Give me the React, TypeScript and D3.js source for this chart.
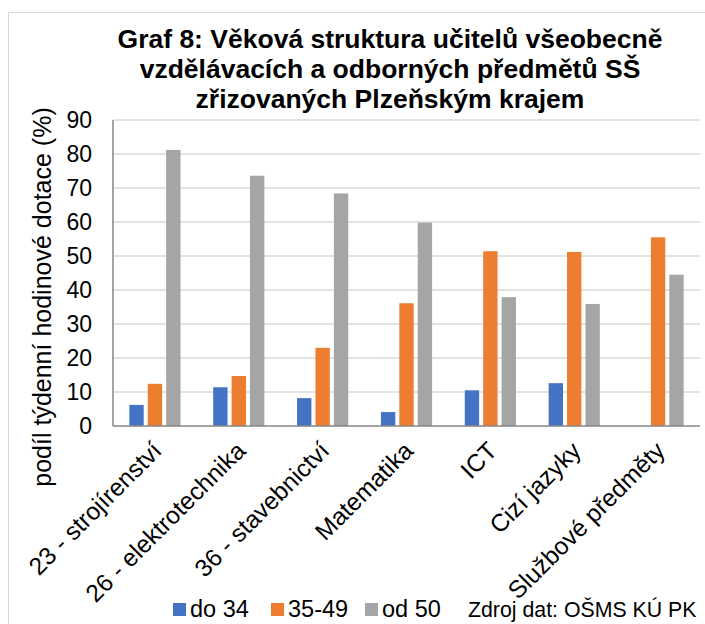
import React, { useEffect, useRef } from "react";
import * as d3 from "d3";

const categories = [
  "23 - strojírenství",
  "26 - elektrotechnika",
  "36 - stavebnictví",
  "Matematika",
  "ICT",
  "Cizí jazyky",
  "Službové předměty",
];
const series = ["do 34", "35-49", "od 50"];
const do34 = [6.2, 11.4, 8.2, 4.1, 10.5, 12.6, 0];
const od35do49 = [12.4, 14.7, 23.0, 36.1, 51.4, 51.2, 55.5];
const od50 = [81.2, 73.6, 68.4, 59.8, 37.9, 35.9, 44.5];
const yTicks = [0, 10, 20, 30, 40, 50, 60, 70, 80, 90];
const colors = ["#4472C4", "#ED7D31", "#A5A5A5"];
const titleLines = [
  "Graf 8: Věková struktura učitelů všeobecně",
  "vzdělávacích a odborných předmětů SŠ",
  "zřizovaných Plzeňským krajem",
];

const FONT = "'Liberation Sans', Arial, sans-serif";

function AgeChart() {
  const ref = useRef<SVGSVGElement>(null);

  useEffect(() => {
    const svg = d3.select(ref.current);
    svg.selectAll("*").remove();

    const width = 705;
    const height = 624;
    const margin = { top: 120, bottom: 198, left: 113, right: 5 };

    // chart frame
    svg.append("rect")
      .attr("x", 8.5).attr("y", 12.5)
      .attr("width", 720).attr("height", 640)
      .attr("fill", "#fff").attr("stroke", "#d9d9d9");

    const x = d3.scaleBand()
      .domain(categories)
      .range([margin.left, width - margin.right])
      .paddingInner(0.39)
      .paddingOuter(0.195);
    const xs = d3.scaleBand().domain(series).range([0, x.bandwidth()]).paddingInner(0.22);
    const y = d3.scaleLinear().domain([0, 90]).range([height - margin.bottom, margin.top]);

    // gridlines
    svg.append("g")
      .selectAll("line")
      .data(yTicks.slice(1))
      .join("line")
      .attr("x1", margin.left).attr("x2", width - margin.right)
      .attr("y1", (d) => y(d)).attr("y2", (d) => y(d))
      .attr("stroke", "#d9d9d9").attr("stroke-width", 1.5);

    // y tick labels
    svg.append("g")
      .selectAll("text")
      .data(yTicks)
      .join("text")
      .attr("x", 92).attr("y", (d) => y(d))
      .attr("dy", "0.36em")
      .attr("text-anchor", "end")
      .style("font-family", FONT).style("font-size", "23px")
      .attr("fill", "#000")
      .text((d) => d);

    // bars
    const values = [do34, od35do49, od50];
    const rows = categories.flatMap((c, i) =>
      series.map((s, j) => ({ c, s, v: values[j][i], j }))
    );
    svg.append("g")
      .selectAll("rect")
      .data(rows.filter((d) => d.v > 0))
      .join("rect")
      .attr("x", (d) => (x(d.c) as number) + (xs(d.s) as number))
      .attr("width", xs.bandwidth())
      .attr("y", (d) => y(d.v))
      .attr("height", (d) => y(0) - y(d.v))
      .attr("fill", (d) => colors[d.j]);

    // axis lines
    svg.append("line")
      .attr("x1", margin.left).attr("x2", margin.left)
      .attr("y1", y(90)).attr("y2", y(0))
      .attr("stroke", "#868686").attr("stroke-width", 1.5);
    svg.append("line")
      .attr("x1", margin.left).attr("x2", width - margin.right)
      .attr("y1", y(0)).attr("y2", y(0))
      .attr("stroke", "#868686").attr("stroke-width", 1.5);

    // category labels
    svg.append("g")
      .selectAll("text")
      .data(categories)
      .join("text")
      .attr("transform", (d) => `translate(${(x(d) as number) + x.bandwidth() / 2 + 2},${y(0) + 20}) rotate(-45)`)
      .attr("dy", "0.36em")
      .attr("text-anchor", "end")
      .style("font-family", FONT).style("font-size", "24.5px")
      .text((d) => d);

    // axis title
    svg.append("text")
      .attr("transform", `translate(42,297) rotate(-90)`)
      .attr("dy", "0.36em")
      .attr("text-anchor", "middle")
      .style("font-family", FONT).style("font-size", "25px")
      .text("podíl týdenní hodinové dotace (%)");

    // title
    svg.append("g")
      .selectAll("text")
      .data(titleLines)
      .join("text")
      .attr("x", 390).attr("y", (d, i) => 38 + i * 30)
      .attr("dy", "0.36em")
      .attr("text-anchor", "middle")
      .style("font-family", FONT).style("font-size", "26.5px").style("font-weight", "bold")
      .text((d) => d);

    // legend
    const legendX = [173, 271, 365];
    const lg = svg.append("g");
    series.forEach((s, i) => {
      lg.append("rect")
        .attr("x", legendX[i]).attr("y", 603)
        .attr("width", 13).attr("height", 13)
        .attr("fill", colors[i]);
      lg.append("text")
        .attr("x", legendX[i] + 17).attr("y", 609)
        .attr("dy", "0.36em")
        .style("font-family", FONT).style("font-size", "23.5px")
        .text(s);
    });
    lg.append("text")
      .attr("x", 468).attr("y", 609)
      .attr("dy", "0.36em")
      .style("font-family", FONT).style("font-size", "21.3px")
      .text("Zdroj dat: OŠMS KÚ PK");
  }, []);

  return <svg ref={ref} width={705} height={624} style={{ display: "block" }} />;
}

export default function App() {
  return (
    <div style={{ position: "absolute", left: 0, top: 0 }}>
      <AgeChart />
    </div>
  );
}
